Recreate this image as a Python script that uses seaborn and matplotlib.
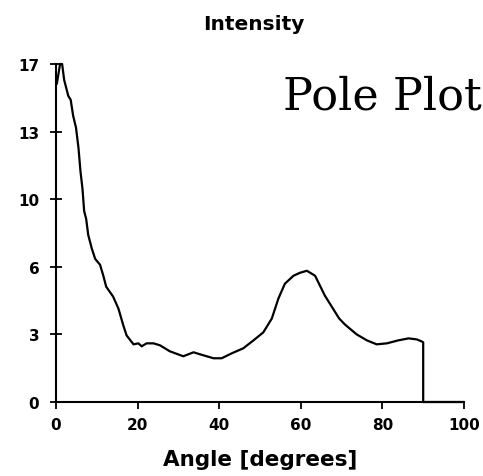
import matplotlib
matplotlib.use("Agg")
import matplotlib.pyplot as plt
import seaborn as sns
import pandas as pd

# curve (angle in degrees, intensity)
angle = [0.2, 1.0, 1.5, 2.0, 3.0, 3.6, 4.2, 4.9, 5.5, 6.0, 6.5, 6.9, 7.4, 7.9,
         8.8, 9.6, 10.8, 11.6, 12.3, 14.0, 15.3, 16.5, 17.3, 19.0, 20.2, 21.0,
         22.2, 23.9, 25.5, 27.9, 31.2, 33.7, 36.1, 38.6, 40.6, 43.1, 45.9, 48.4,
         50.8, 52.9, 54.5, 56.1, 58.2, 59.8, 61.5, 63.5, 65.9, 69.4, 70.8, 73.7,
         76.2, 78.6, 81.1, 83.9, 86.4, 88.4, 89.6, 90.0, 90.0, 100.0]
intensity = [16.0, 17.0, 17.0, 16.2, 15.4, 15.2, 14.4, 13.8, 12.8, 11.6, 10.7,
             9.6, 9.2, 8.4, 7.7, 7.2, 6.9, 6.35, 5.8, 5.3, 4.7, 3.85, 3.35, 2.9,
             2.95, 2.8, 2.95, 2.95, 2.85, 2.55, 2.3, 2.5, 2.35, 2.2, 2.2, 2.45,
             2.7, 3.1, 3.5, 4.2, 5.2, 5.95, 6.35, 6.5, 6.6, 6.35, 5.35, 4.2, 3.9,
             3.4, 3.1, 2.9, 2.95, 3.1, 3.2, 3.15, 3.05, 3.0, 0.0, 0.0]

xtick_values = [0, 20, 40, 60, 80, 100]
ytick_values = [0, 3.4, 6.8, 10.2, 13.6, 17]
ytick_labels = ["0", "3", "6", "10", "13", "17"]

sns.set_style("ticks")
plt.rcParams["font.family"] = ["DejaVu Sans"]
plt.rcParams["text.color"] = "black"
plt.rcParams["axes.labelcolor"] = "black"

df = pd.DataFrame({"angle": angle, "intensity": intensity})

fig = plt.figure(figsize=(4.83, 4.77), dpi=100)
ax = fig.add_axes([56 / 483, 1 - 403 / 477, 408 / 483, 338 / 477])

sns.lineplot(data=df, x="angle", y="intensity", ax=ax, color="black",
             linewidth=1.6, sort=False, estimator=None, clip_on=False)

ax.set_xlim(0, 100)
ax.set_ylim(0, 17)
ax.set_xticks(xtick_values)
ax.set_yticks(ytick_values)
ax.set_yticklabels(ytick_labels)
sns.despine(ax=ax)
for s in ["left", "bottom"]:
    ax.spines[s].set_linewidth(1.5)
    ax.spines[s].set_color("black")

ax.tick_params(axis="y", direction="inout", length=8, width=1.3, pad=8,
               labelsize=11, colors="black")
ax.tick_params(axis="x", direction="out", length=5, width=1.3, pad=6,
               labelsize=11, colors="black")
for lab in ax.get_xticklabels() + ax.get_yticklabels():
    lab.set_fontweight("bold")

ax.set_xlabel("Angle [degrees]", fontsize=15.5, fontweight="bold", labelpad=12,
              color="black")
ax.set_ylabel("")

fig.text(254 / 483, 1 - 30 / 477, "Intensity", ha="center", va="baseline",
         fontsize=14.5, fontweight="bold", color="black")
fig.text(283 / 483, 1 - 110 / 477, "Pole Plot", ha="left", va="baseline",
         fontsize=32, family="DejaVu Serif", color="black")

fig.savefig("out.png", dpi=100)
